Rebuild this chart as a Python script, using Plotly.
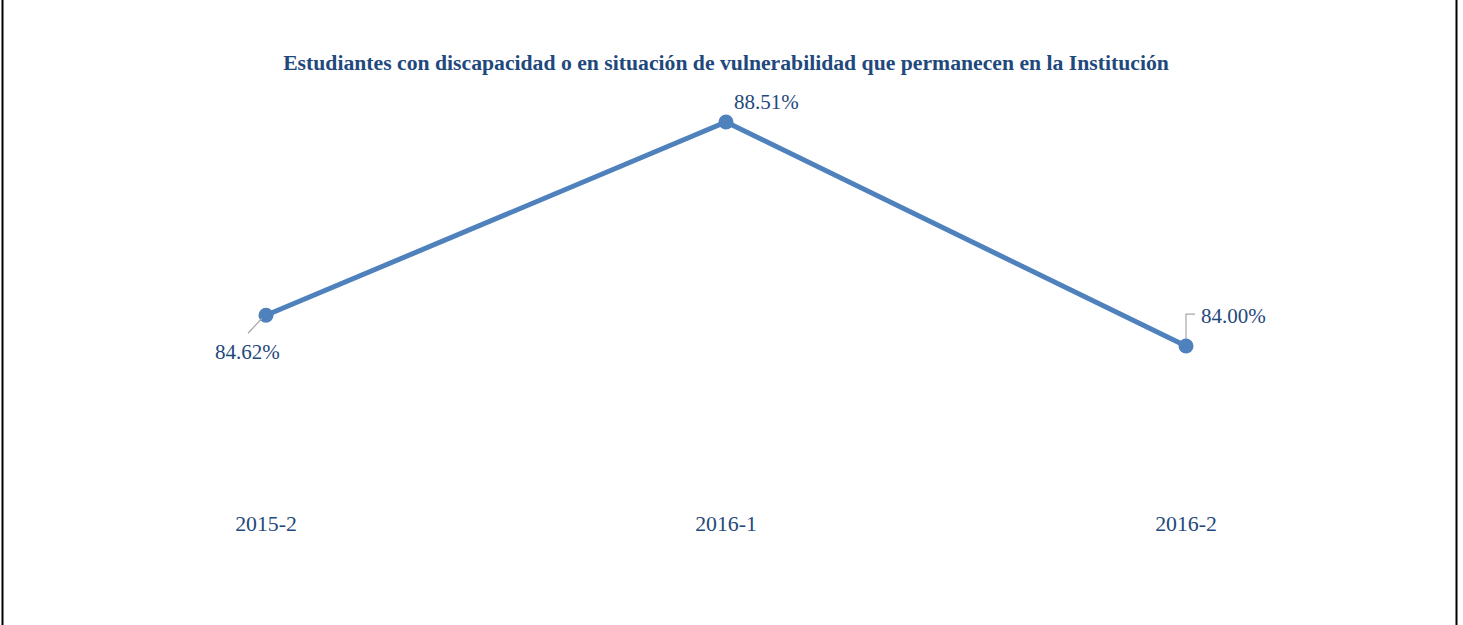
import plotly.graph_objects as go

categories = ["2015-2", "2016-1", "2016-2"]
values = [84.62, 88.51, 84.00]
labels = ["84.62%", "88.51%", "84.00%"]

title_text = "Estudiantes con discapacidad o en situación de vulnerabilidad que permanecen en la Institución"

LINE = "#4F81BD"
TXT = "#1F497D"
FONT = "Liberation Serif"

W, H = 1463, 625
L, R, T, B = 36, 47, 48, 117
PW = W - L - R

fig = go.Figure()
fig.add_trace(go.Scatter(
    x=list(range(len(categories))), y=values, mode="lines+markers",
    line=dict(color=LINE, width=5),
    marker=dict(color=LINE, size=15),
    hoverinfo="skip", showlegend=False,
))

# label offsets (pixels) relative to each point
offsets = [(-19, -37), (40, 20), (47, 30)]
for i, (lab, v) in enumerate(zip(labels, values)):
    dx, dy = offsets[i]
    fig.add_annotation(x=i, y=v, xref="x", yref="y", text=lab, showarrow=False,
                       xshift=dx, yshift=dy, font=dict(family=FONT, size=21, color=TXT))

# leader lines
fig.add_shape(type="line", xref="x", yref="y", xsizemode="pixel", ysizemode="pixel",
              xanchor=0, yanchor=values[0], x0=-4, y0=-3, x1=-18, y1=-18,
              line=dict(color="#A6A6A6", width=1.2))
fig.add_shape(type="path", xref="x", yref="y", xsizemode="pixel", ysizemode="pixel",
              xanchor=2, yanchor=values[2], path="M 0 4 L 0 32 L 9 32",
              line=dict(color="#A6A6A6", width=1.2), layer="below")

# border lines (left/right)
for px in (2.5, 1456.5):
    xp = (px - L) / PW
    fig.add_shape(type="line", xref="paper", yref="paper", x0=xp, x1=xp, y0=-0.5, y1=1.5,
                  line=dict(color="black", width=2))

fig.update_layout(
    width=W, height=H,
    margin=dict(l=L, r=R, t=T, b=B),
    paper_bgcolor="white", plot_bgcolor="white",
    title=dict(text="<b>" + title_text + "</b>", x=726 / W, xanchor="center",
               y=1 - 62 / H, yanchor="middle", font=dict(family=FONT, size=21.7, color=TXT)),
    xaxis=dict(range=[-0.5, 2.5], tickmode="array", tickvals=list(range(len(categories))),
               ticktext=categories, showgrid=False, zeroline=False, showline=False,
               ticks="", tickfont=dict(family=FONT, size=21.8, color=TXT)),
    yaxis=dict(range=[80.74, 90.0], showgrid=False, zeroline=False, showline=False,
               showticklabels=False, ticks=""),
)

fig.write_html("out.html", config={"displayModeBar": False},
               post_script="document.body.style.margin='0';document.body.style.overflow='hidden';")
